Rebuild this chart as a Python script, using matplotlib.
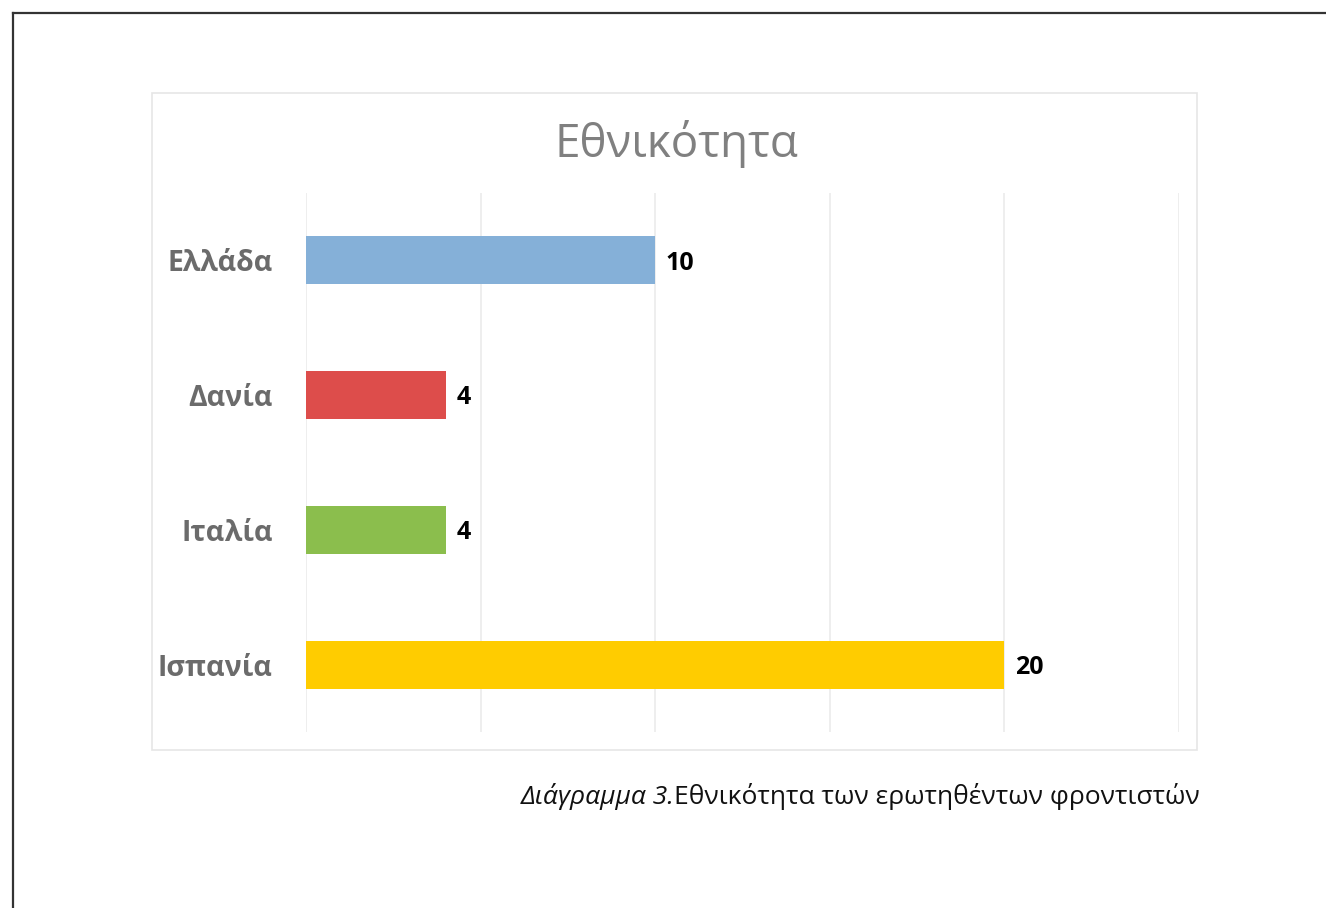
import matplotlib
matplotlib.use("Agg")
import matplotlib.pyplot as plt
from matplotlib.patches import Rectangle
from matplotlib.lines import Line2D

plt.rcParams['font.family'] = ['Open Sans', 'DejaVu Sans']

categories = ["Ελλάδα", "Δανία", "Ιταλία", "Ισπανία"]
values = [10, 4, 4, 20]
colors = ["#85B0D8", "#DD4D4B", "#8BBE4D", "#FFCC00"]
title = "Εθνικότητα"
caption_italic = "Διάγραμμα 3."
caption_regular = "Εθνικότητα των ερωτηθέντων φροντιστών"
xticks = [0, 5, 10, 15, 20, 25]

W, H = 1326, 908
fig = plt.figure(figsize=(W / 100, H / 100), dpi=100)

# outer page border (left and top)
fig.add_artist(Line2D([13 / W, 13 / W], [0, 1 - 13 / H], color="#333333", lw=1.6, transform=fig.transFigure))
fig.add_artist(Line2D([13 / W, 1], [1 - 13 / H, 1 - 13 / H], color="#333333", lw=1.6, transform=fig.transFigure))

# chart box
fig.add_artist(Rectangle((152 / W, 1 - 750 / H), (1197 - 152) / W, (750 - 93) / H,
                         fill=False, edgecolor="#E6E6E6", lw=1.2, transform=fig.transFigure))

ax = fig.add_axes([306 / W, 1 - 732 / H, (1179 - 306) / W, (732 - 193) / H])
ypos = list(range(len(categories)))
ax.barh(ypos, values, height=0.355, color=colors, zorder=3)
ax.set_xlim(0, 25)
ax.set_ylim(len(categories) - 0.5, -0.5)
ax.set_xticks(xticks)
ax.set_xticklabels([])
ax.set_yticks(ypos)
ax.set_yticklabels(categories, fontsize=20.5, fontweight="bold", color="#6B6B6B")
ax.tick_params(axis="both", length=0, pad=24)
ax.grid(axis="x", color="#EBEBEB", lw=1.2, zorder=0)
for s in ax.spines.values():
    s.set_visible(False)
for y, v in zip(ypos, values):
    ax.text(v + 0.3, y + 0.02, str(v), va="center", ha="left", fontsize=18, fontweight="bold", color="#000000")

fig.text(676 / W, 1 - 144 / H, title, ha="center", va="center", fontsize=33, color="#808080")

# caption
renderer = fig.canvas.get_renderer()
t2 = fig.text(1200 / W, 1 - 797 / H, caption_regular, ha="right", va="center", fontsize=19, color="#111111")
bb = t2.get_window_extent(renderer=renderer)
fig.text(bb.x0 / W, 1 - 797 / H, caption_italic, ha="right", va="center", fontsize=19,
         style="italic", color="#111111")

fig.savefig("out.png", dpi=100)
